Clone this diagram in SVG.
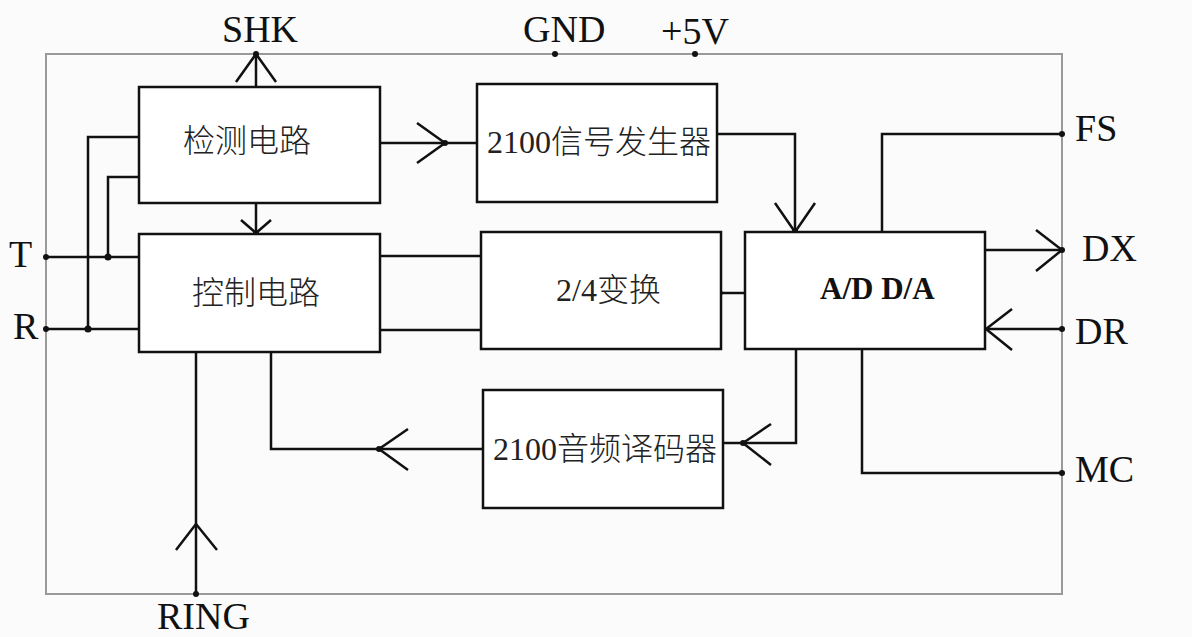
<svg xmlns="http://www.w3.org/2000/svg" width="1192" height="637" viewBox="0 0 1192 637">
<style>
.bg{fill:#fbfbfb}
.frame{fill:none;stroke:#999;stroke-width:2}
.box{fill:#fff;stroke:#111;stroke-width:2.5}
.w{fill:none;stroke:#111;stroke-width:2.5;stroke-linejoin:miter}
.dot{fill:#111}
.lbl{font-family:"Liberation Serif","Times New Roman",serif;font-size:38px;fill:#111}
.cn{font-family:"Liberation Serif","Noto Sans CJK SC",serif;font-size:32px;fill:#222;font-weight:300}
.bold{font-family:"Liberation Serif","Times New Roman",serif;font-size:31px;font-weight:bold;fill:#111}
</style>
<rect class="bg" x="0" y="0" width="1192" height="637"/>
<rect class="frame" x="46" y="54" width="1016" height="540"/>

<g id="connectors">
  <!-- SHK -->
  <polyline class="w" points="256,87 256,54"/>
  <polyline class="w" points="236,82 256,54 276,82"/>
  <circle class="dot" cx="256" cy="54" r="3"/>
  <!-- detect -> generator -->
  <polyline class="w" points="380,143 477,143"/>
  <polyline class="w" points="417,123 445,143 417,163"/>
  <circle class="dot" cx="445" cy="143" r="3"/>
  <!-- detect -> control -->
  <polyline class="w" points="256,203 256,234"/>
  <polyline class="w" points="241,220 256,233 271,220"/>
  <circle class="dot" cx="256" cy="233" r="3"/>
  <!-- T / R -->
  <polyline class="w" points="46,257 139,257"/>
  <polyline class="w" points="46,329 139,329"/>
  <polyline class="w" points="139,137 88,137 88,329"/>
  <polyline class="w" points="139,177 108,177 108,257"/>
  <circle class="dot" cx="46" cy="257" r="3"/>
  <circle class="dot" cx="46" cy="329" r="3"/>
  <circle class="dot" cx="88" cy="329" r="3.5"/>
  <circle class="dot" cx="108" cy="257" r="3.5"/>
  <!-- control <-> 2/4 -->
  <polyline class="w" points="380,256 481,256"/>
  <polyline class="w" points="380,330 481,330"/>
  <!-- 2/4 <-> ADDA -->
  <polyline class="w" points="721,293 745,293"/>
  <circle class="dot" cx="721" cy="293" r="2"/>
  <!-- generator -> ADDA -->
  <polyline class="w" points="717,134 795,134 795,232"/>
  <polyline class="w" points="775,203 795,232 815,203"/>
  <circle class="dot" cx="795" cy="231" r="3"/>
  <!-- FS -->
  <polyline class="w" points="882,232 882,134 1062,134"/>
  <circle class="dot" cx="1062" cy="134" r="3"/>
  <!-- DX -->
  <polyline class="w" points="985,250 1062,250"/>
  <polyline class="w" points="1036,230 1062,250 1036,271"/>
  <circle class="dot" cx="1062" cy="250" r="3"/>
  <!-- DR -->
  <polyline class="w" points="1062,329 985,329"/>
  <polyline class="w" points="1012,309 986,329 1012,350"/>
  <circle class="dot" cx="1062" cy="329" r="3"/>
  <!-- MC -->
  <polyline class="w" points="862,349 862,473 1062,473"/>
  <circle class="dot" cx="1062" cy="473" r="3"/>
  <!-- ADDA -> decoder -->
  <polyline class="w" points="796,349 796,443 723,443"/>
  <polyline class="w" points="771,424 743,443 771,465"/>
  <circle class="dot" cx="743" cy="443" r="3"/>
  <!-- decoder -> control -->
  <polyline class="w" points="483,449 271,449 271,352"/>
  <polyline class="w" points="408,429 379,449 408,470"/>
  <circle class="dot" cx="379" cy="449" r="3"/>
  <!-- RING -->
  <polyline class="w" points="196,594 196,352"/>
  <polyline class="w" points="176,550 196,524 217,550"/>
  <circle class="dot" cx="196" cy="594" r="3"/>
</g>

<g id="node-detect">
  <rect class="box" x="139" y="87" width="241" height="116"/>
  <text class="cn" x="183" y="152">检测电路</text>
</g>
<g id="node-control">
  <rect class="box" x="139" y="234" width="241" height="118"/>
  <text class="cn" x="192" y="304">控制电路</text>
</g>
<g id="node-generator">
  <rect class="box" x="477" y="84" width="240" height="118"/>
  <text class="cn" x="487" y="153">2100信号发生器</text>
</g>
<g id="node-conv">
  <rect class="box" x="481" y="232" width="240" height="117"/>
  <text class="cn" x="556" y="301">2/4变换</text>
</g>
<g id="node-adda">
  <rect class="box" x="745" y="232" width="240" height="117"/>
  <text class="bold" x="820" y="299">A/D D/A</text>
</g>
<g id="node-decoder">
  <rect class="box" x="483" y="390" width="240" height="118"/>
  <text class="cn" x="493" y="460">2100音频译码器</text>
</g>

<g id="labels">
  <text class="lbl" x="222" y="42">SHK</text>
  <text class="lbl" x="523" y="42">GND</text>
  <circle class="dot" cx="555" cy="54" r="3"/>
  <text class="lbl" x="661" y="44">+5V</text>
  <circle class="dot" cx="695" cy="54" r="3"/>
  <text class="lbl" x="9" y="267">T</text>
  <text class="lbl" x="13" y="339">R</text>
  <text class="lbl" x="1075" y="141">FS</text>
  <text class="lbl" x="1082" y="261">DX</text>
  <text class="lbl" x="1075" y="344">DR</text>
  <text class="lbl" x="1075" y="482">MC</text>
  <text class="lbl" x="157" y="629">RING</text>
</g>
</svg>
